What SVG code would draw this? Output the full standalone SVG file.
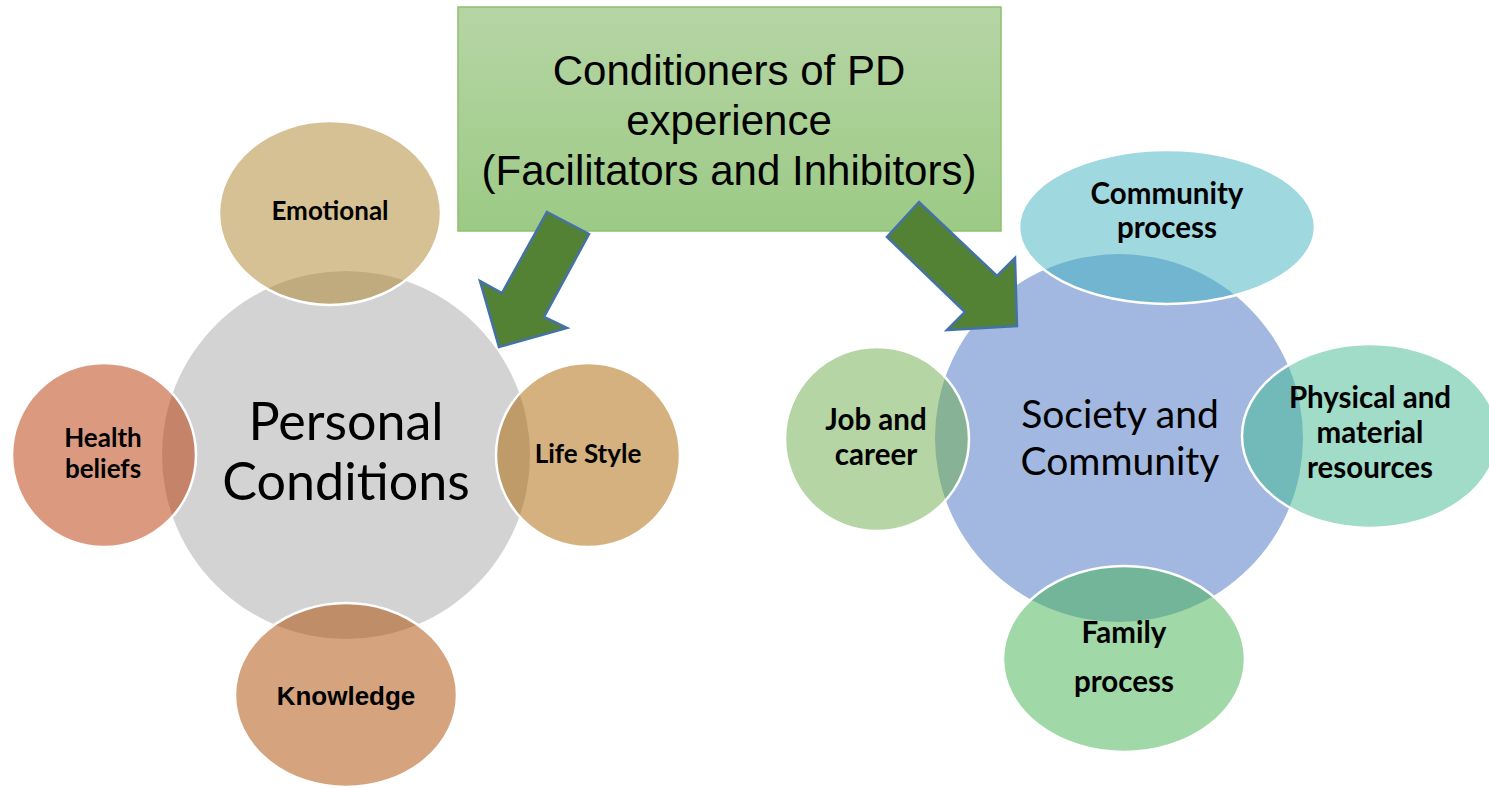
<svg xmlns="http://www.w3.org/2000/svg" width="1489" height="788" viewBox="0 0 1489 788">
<defs>
<linearGradient id="boxGrad" x1="0" y1="0" x2="0" y2="1">
<stop offset="0" stop-color="#B6D5A5"/>
<stop offset="1" stop-color="#9CCA85"/>
</linearGradient>
<style>
.hub{stroke:none}
.sat{fill-opacity:0.5;stroke:#FFFFFF;stroke-width:2.5}
.lbl{font-family:Lato,"Noto Sans",sans-serif;font-weight:bold;font-size:26px;fill:#000;text-anchor:middle}
.lblR{font-family:Lato,"Noto Sans",sans-serif;font-weight:bold;font-size:29.5px;fill:#000;text-anchor:middle}
.lblA{font-family:"Liberation Sans",Arial,sans-serif;font-weight:bold;font-size:26px;fill:#000;text-anchor:middle}
.hubtxt{font-family:Lato,"Noto Sans",sans-serif;font-size:52px;fill:#000;text-anchor:middle}
.hubtxt2{font-family:Lato,"Noto Sans",sans-serif;font-size:39px;fill:#000;text-anchor:middle}
.title{font-family:"Liberation Sans",Arial,sans-serif;font-size:42px;fill:#000;text-anchor:middle}
.arrow{fill:#548235;stroke:#4472A8;stroke-width:2.5;stroke-linejoin:miter}
</style>
</defs>
<rect width="1489" height="788" fill="#FFFFFF"/>

<g id="personal-conditions">
<circle class="hub" cx="346" cy="455" r="184" fill="#D3D3D3"/>
<text class="hubtxt" x="346" y="440">Personal</text>
<text class="hubtxt" x="346" y="500">Conditions</text>
</g>

<g id="society-community">
<circle class="hub" cx="1119" cy="438" r="184" fill="#A2B8E0"/>
<text class="hubtxt2" x="1120" y="428">Society and</text>
<text class="hubtxt2" x="1120" y="475">Community</text>
</g>

<g id="emotional">
<ellipse class="sat" cx="330" cy="213" rx="111" ry="92" fill="#AD8329"/>
<text class="lbl" x="330" y="220">Emotional</text>
</g>
<g id="health-beliefs">
<circle class="sat" cx="104" cy="455" r="92" fill="#B73501"/>
<text class="lbl" x="103" y="447">Health</text>
<text class="lbl" x="103" y="478">beliefs</text>
</g>
<g id="life-style">
<circle class="sat" cx="588" cy="455" r="92" fill="#AB6300"/>
<text class="lbl" x="588" y="463">Life Style</text>
</g>
<g id="knowledge">
<ellipse class="sat" cx="346" cy="695" rx="111" ry="92" fill="#AB4900"/>
<text class="lblA" x="346" y="705">Knowledge</text>
</g>

<g id="community-process">
<ellipse class="sat" cx="1167" cy="227" rx="148" ry="77" fill="#41B1C1"/>
<text class="lblR" x="1167" y="204">Community</text>
<text class="lblR" x="1167" y="238">process</text>
</g>
<g id="job-career">
<circle class="sat" cx="877" cy="439" r="92" fill="#6BAB4B"/>
<text class="lblR" x="876" y="430">Job and</text>
<text class="lblR" x="876" y="465">career</text>
</g>
<g id="physical-resources">
<ellipse class="sat" cx="1370" cy="436" rx="128" ry="92" fill="#41B991"/>
<text class="lblR" x="1370" y="408">Physical and</text>
<text class="lblR" x="1370" y="443">material</text>
<text class="lblR" x="1370" y="478">resources</text>
</g>
<g id="family-process">
<ellipse class="sat" cx="1124" cy="659" rx="121" ry="93" fill="#41B151"/>
<text class="lblR" x="1124" y="643">Family</text>
<text class="lblR" x="1124" y="692">process</text>
</g>

<g id="conditioners">
<rect x="458" y="7" width="543" height="224" fill="url(#boxGrad)" stroke="#8DC06F" stroke-width="1.5"/>
<text class="title" x="729" y="85">Conditioners of PD</text>
<text class="title" x="729" y="135">experience</text>
<text class="title" x="729" y="185">(Facilitators and Inhibitors)</text>
</g>

<g id="connectors">
<polygon class="arrow" points="547,212 589,234 544,317 567,328 499,347 480,281 502,293"/>
<polygon class="arrow" points="919,202 887,237 965,312 947,330 1017,326 1015,258 997,276"/>
</g>
</svg>
